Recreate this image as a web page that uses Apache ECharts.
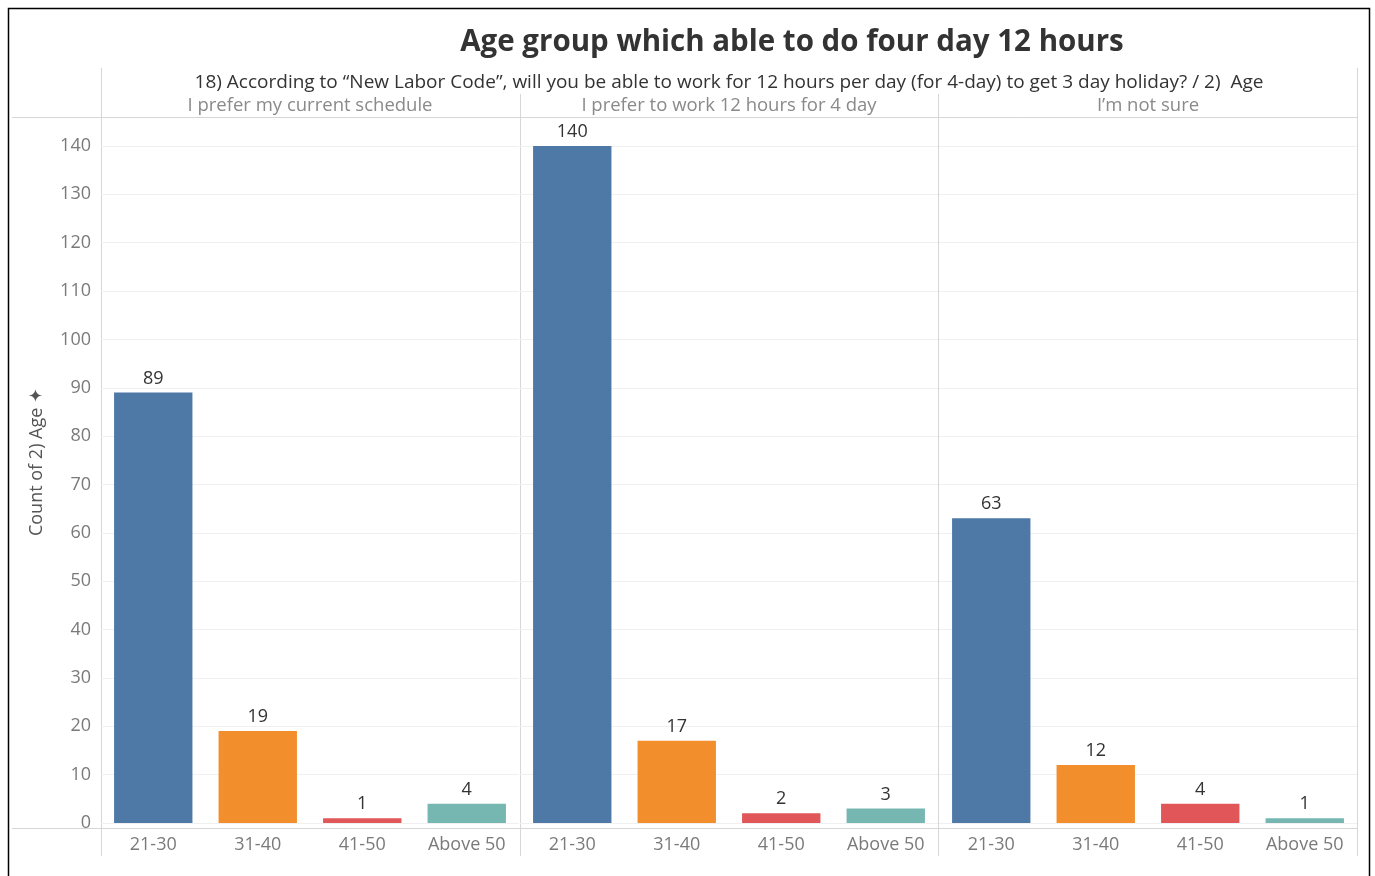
<!DOCTYPE html>
<html>
<head>
<meta charset="utf-8">
<script src="https://cdn.jsdelivr.net/npm/echarts@6/dist/echarts.min.js"></script>
<style>
  html, body { margin: 0; padding: 0; background: #fff; }
  #chart { width: 1375px; height: 876px; }
</style>
</head>
<body>
<div id="chart"></div>
<script>
// Age groups shown under every answer panel
const ageGroups = ['21-30', '31-40', '41-50', 'Above 50'];
// Answer panels (column headers)
const answers = ['I prefer my current schedule', 'I prefer to work 12 hours for 4 day', 'I\u2019m not sure'];
// Counts per answer, in age-group order
const countsCurrent = [89, 19, 1, 4];
const countsFourDay = [140, 17, 2, 3];
const countsNotSure = [63, 12, 4, 1];
const panelCounts = [countsCurrent, countsFourDay, countsNotSure];
// Value axis ticks
const yMin = 0, yMax = 140, yStep = 10;

const titleText = 'Age group which able to do four day 12 hours';
const headerText = '18) According to \u201cNew Labor Code\u201d, will you be able to work for 12 hours per day (for 4-day) to get 3 day holiday? / 2)  Age';
const yAxisTitle = 'Count of 2) Age';

const palette = ['#4e79a7', '#f28e2b', '#e15759', '#76b7b2'];
const FONT = '"Open Sans", "Noto Sans", sans-serif';

// Panel geometry (pixels)
const panelLeft = [101, 520, 939];
const panelWidth = 418;
const plotTop = 146, plotBottomGap = 53;

const grids = [], xAxes = [], yAxes = [], series = [];
panelLeft.forEach((left, i) => {
  grids.push({ left: left, width: panelWidth, top: plotTop, bottom: plotBottomGap });
  xAxes.push({
    type: 'category', gridIndex: i, data: ageGroups,
    axisLine: { show: false }, axisTick: { show: false },
    axisLabel: { color: '#7a7a7a', fontSize: 18, fontFamily: FONT, margin: 13 }
  });
  yAxes.push({
    type: 'value', gridIndex: i, min: yMin, max: yMax, interval: yStep,
    axisLine: { show: false }, axisTick: { show: false },
    axisLabel: { show: i === 0, color: '#7a7a7a', fontSize: 18, fontFamily: FONT, margin: 10 },
    splitLine: { lineStyle: { color: '#f0f0f0', width: 1 } }
  });
  series.push({
    type: 'bar', xAxisIndex: i, yAxisIndex: i,
    data: panelCounts[i], colorBy: 'data',
    barCategoryGap: '25%',
    label: { show: true, position: 'top', distance: 5, color: '#333', fontSize: 18, fontFamily: FONT },
    silent: true
  });
});

// Frame, panel dividers and header lines
const lineStyle = { stroke: '#d6d6d6', lineWidth: 1 };
const graphics = [
  { type: 'rect', shape: { x: 8.5, y: 8.5, width: 1361, height: 900 }, style: { fill: 'none', stroke: '#000', lineWidth: 1.5 }, z: 10 },
  { type: 'line', shape: { x1: 12, y1: 117.5, x2: 1358, y2: 117.5 }, style: lineStyle },
  { type: 'line', shape: { x1: 12, y1: 828.5, x2: 1358, y2: 828.5 }, style: lineStyle },
  { type: 'line', shape: { x1: 101.5, y1: 68, x2: 101.5, y2: 856 }, style: lineStyle },
  { type: 'line', shape: { x1: 520.5, y1: 94, x2: 520.5, y2: 856 }, style: lineStyle },
  { type: 'line', shape: { x1: 938.5, y1: 94, x2: 938.5, y2: 856 }, style: lineStyle },
  { type: 'line', shape: { x1: 1357.5, y1: 68, x2: 1357.5, y2: 856 }, style: lineStyle },
  { type: 'text', x: 729, y: 83, style: { text: headerText, fill: '#333', font: '19px ' + FONT, textAlign: 'center', textVerticalAlign: 'middle' } },
  { type: 'text', x: 37, y: 462, rotation: Math.PI / 2,
    style: { text: yAxisTitle + ' \u2726', fill: '#555', font: '18px ' + FONT, textAlign: 'center', textVerticalAlign: 'middle' } }
];
answers.forEach((a, i) => {
  graphics.push({ type: 'text', x: panelLeft[i] + panelWidth / 2, y: 106,
    style: { text: a, fill: '#8a8a8a', font: '18.5px ' + FONT, textAlign: 'center', textVerticalAlign: 'middle' } });
});

const chart = echarts.init(document.getElementById('chart'), null, { renderer: 'canvas' });
chart.setOption({
  animation: false,
  color: palette,
  title: {
    text: titleText, left: 787, top: 23, textAlign: 'center',
    textStyle: { fontSize: 29.5, fontWeight: 'bold', color: '#333', fontFamily: FONT }
  },
  grid: grids,
  xAxis: xAxes,
  yAxis: yAxes,
  series: series,
  graphic: graphics
});
</script>
</body>
</html>
